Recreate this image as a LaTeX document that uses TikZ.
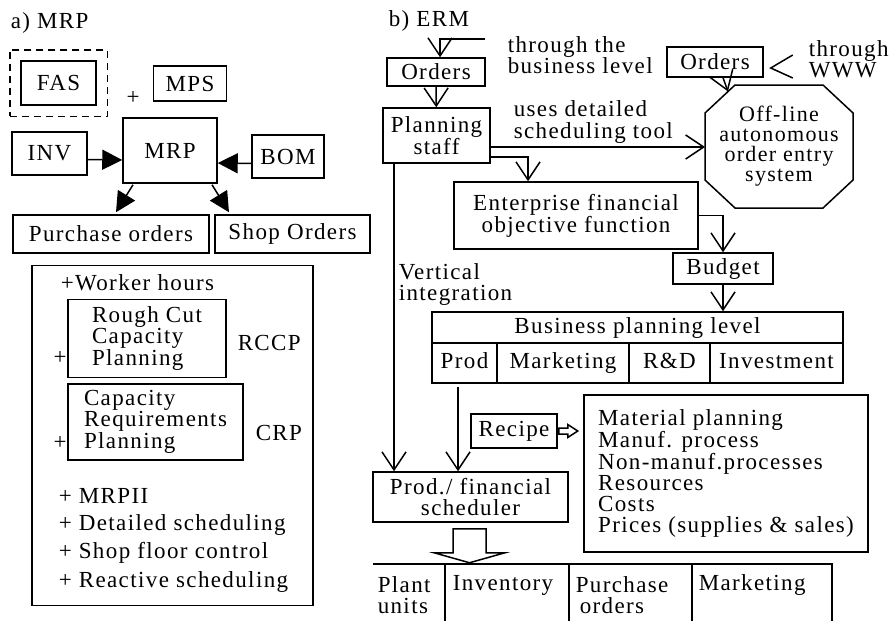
\documentclass[tikz,border=0pt]{standalone}
\usepackage{fontspec}
\setmainfont{Liberation Serif}[LetterSpace=6]
\usetikzlibrary{arrows.meta,fit}

\begin{document}
\begin{tikzpicture}[x=1pt, y=-1pt,
		font=\fontsize{23}{21}\selectfont,
		line width=1.5pt,
		box/.style={draw, inner sep=0pt, align=center},
		cell/.style={box, minimum height=40pt, text depth=5pt},
		txt/.style={inner sep=0pt, anchor=west, align=left},
		barb/.style={-{Straight Barb[length=18pt,width=24pt,line width=1.5pt]}},
		fat/.style={-{Triangle[length=20pt,width=20pt]}}
	]
		\useasboundingbox (0,0) rectangle (893,621);
		% a) MRP
		\begin{scope}
			\node[txt] (alab) at (10,23) {a) MRP};
			\node[box, minimum width=75pt, minimum height=44pt] (fas) at (58.5,83) {FAS};
			\node[draw, dashed, dash pattern=on 7pt off 5pt, fit=(fas), inner sep=10.5pt] (fasout) {};
			\node[inner sep=0pt] (plus) at (133,98) {+};
			\node[box, minimum width=73pt, minimum height=35pt] (mps) at (190,83.5) {MPS};
			\node[box, minimum width=94pt, minimum height=65pt] (mrp) at (170,150.5) {MRP};
			\node[box, minimum width=75pt, minimum height=43pt] (inv) at (49.5,153.5) {INV};
			\node[box, minimum width=72pt, minimum height=43pt] (bom) at (288,156.5) {BOM};
			\node[box, minimum width=196pt, minimum height=38pt] (po) at (111,234) {Purchase orders};
			\node[box, minimum width=155pt, minimum height=38pt] (so) at (292.5,234) {Shop Orders};
			\draw[fat] ([shift={(0,6)}]inv.east) -- ([shift={(0,9.5)}]mrp.west);
			\draw[fat] ([shift={(0,7)}]bom.west) -- ([shift={(0,12.5)}]mrp.east);
			\draw[fat] ([shift={(-37,1)}]mrp.south) -- ([shift={(5,-2)}]po.north);
			\draw[fat] ([shift={(42,1)}]mrp.south) -- ([shift={(-63.5,-2)}]so.north);
			%
			\node[box, minimum width=281pt, minimum height=340pt] (ext) at (172.5,435.5) {};
			\node[txt] (wh) at (60,283) {+Worker hours};
			\node[box, minimum width=158pt, minimum height=78pt, align=left,
				font=\fontsize{23}{20}\selectfont] (rccp) at (147,338.5) {Rough Cut\\Capacity\\Planning};
			\node[inner sep=0pt, anchor=east] (prccp) at (rccp.west |- 0,358) {+};
			\node[txt] (lrccp) at (237,343) {RCCP};
			\node[box, minimum width=175pt, minimum height=76pt, align=left,
				font=\fontsize{23}{20}\selectfont] (crp) at (155.5,422) {Capacity\\Requirements\\Planning};
			\node[inner sep=0pt, anchor=east] (pcrp) at (crp.west |- 0,443) {+};
			\node[txt] (lcrp) at (255,433) {CRP};
			\node[txt] (mrp2) at (58,496) {+ MRPII};
			\node[txt] (dsch) at (58,525) {+ Detailed scheduling};
			\node[txt] (sfc) at (58,553) {+ Shop floor control};
			\node[txt] (rsch) at (58,582) {+ Reactive scheduling};
		\end{scope}
		%
		% b) ERM
		\begin{scope}
			\node[txt] (blab) at (388,21) {b) ERM};
			\coordinate (bizin) at (485,39);
			\node[txt] (biz) at (507,55) {through the\\business level};
			\node[box, minimum width=98pt, minimum height=28pt] (o1) at (436,72) {Orders};
			\draw[barb] (bizin) -| ([shift={(4,0)}]o1.north);
			\node[box, minimum width=107pt, minimum height=55pt] (ps) at (436.5,135.5) {Planning\\staff};
			\draw[barb] (o1) -- (ps);
			%
			\node[box, minimum width=96pt, minimum height=30pt] (o2) at (715,62) {Orders};
			\node[txt, font=\fontsize{23}{19}\selectfont] (www) at (808,59) {through\\WWW};
			\draw ([shift={(29,-7)}]o2.east) -- ([shift={(7,6)}]o2.east) -- ([shift={(29,16)}]o2.east);
			\node[inner sep=0pt, align=center, font=\fontsize{22}{20}\selectfont] (oct) at (779,146.5)
				{Off-line\\autonomous\\order entry\\system};
			\draw (oct.center) ++(-44,-61.5) -- ++(88,0) -- ++(30,28) -- ++(0,67) -- ++(-30,28)
				-- ++(-88,0) -- ++(-30,-28) -- ++(0,-67) -- cycle;
			\coordinate (octw) at ([shift={(-74,0.5)}]oct.center);
			\coordinate (octnw) at ([shift={(-51,-55)}]oct.center);
			\draw[barb] ([shift={(8,0)}]o2.south) -- (octnw);
			\node[txt] (uses) at (513,122) {uses detailed\\scheduling tool};
			\draw[barb] ([shift={(0,11.5)}]ps.east) -- (octw);
			%
			\node[box, minimum width=244pt, minimum height=67pt] (ent) at (576,215.5) {Enterprise financial\\objective function};
			\draw[barb] ([shift={(0,21.5)}]ps.east) -| ([shift={(-48,0)}]ent.north);
			\node[box, minimum width=100pt, minimum height=31pt] (bud) at (723,268.5) {Budget};
			\draw[barb] (ent.east) -| (bud.north);
			%
			\node[box, minimum width=411pt, minimum height=31pt] (bpl) at (637.5,327.5) {Business planning level};
			\node[cell, minimum width=65pt] (prod) at (464.5,363) {Prod};
			\node[cell, minimum width=132pt] (mkt) at (563,363) {Marketing};
			\node[cell, minimum width=81pt] (rd) at (669.5,363) {R\&D};
			\node[cell, minimum width=133pt] (invest) at (776.5,363) {Investment};
			\draw[barb] (bud.south) -- (bud.south |- bpl.north);
			%
			\node[txt] (vi) at (398,284) {Vertical\\integration};
			\node[box, minimum width=86pt, minimum height=34pt] (rec) at (514,431) {Recipe};
			\node[box, minimum width=195pt, minimum height=50pt] (sched) at (470.5,497) {Prod./ financial\\scheduler};
			\draw[barb] ([shift={(-42.5,0)}]ps.south) -- ([shift={(-76.5,0)}]sched.north);
			\draw[barb] ([shift={(-6.5,3)}]prod.south) -- ([shift={(-12.5,0)}]sched.north);
			\node[box, minimum width=284pt, minimum height=157pt, align=left] (mat) at (726,473.5)
				{Material planning\\Manuf. process\\Non-manuf.processes\\Resources\\Costs\\Prices (supplies \& sales)};
			\draw (rec.east) ++(1,-3) -- ++(9,0) -- ++(0,-3.5) -- ++(10,6.5) -- ++(-10,6.5) -- ++(0,-3.5) -- ++(-9,0) -- cycle;
			%
			\coordinate (tabnw) at (373,564);
			\draw (tabnw) -- ++(459,0) -- ++(0,57);
			\draw ([shift={(72,0)}]tabnw) -- ++(0,57);
			\draw ([shift={(196,0)}]tabnw) -- ++(0,57);
			\draw ([shift={(319,0)}]tabnw) -- ++(0,57);
			\draw (sched.south) ++(-17.5,6) -- ++(0,24) -- ++(-19,0) -- ++(35.5,10) -- ++(35.5,-10) -- ++(-19,0) -- ++(0,-24) -- cycle;
			\node[txt] (plant) at (377,595) {Plant\\units};
			\node[txt] (stock) at (452,585) {Inventory};
			\node[txt] (purch) at (575,595) {Purchase\\\hspace*{4pt}orders};
			\node[txt] (mark) at (698,585) {Marketing};
		\end{scope}
	\end{tikzpicture}
\end{document}
